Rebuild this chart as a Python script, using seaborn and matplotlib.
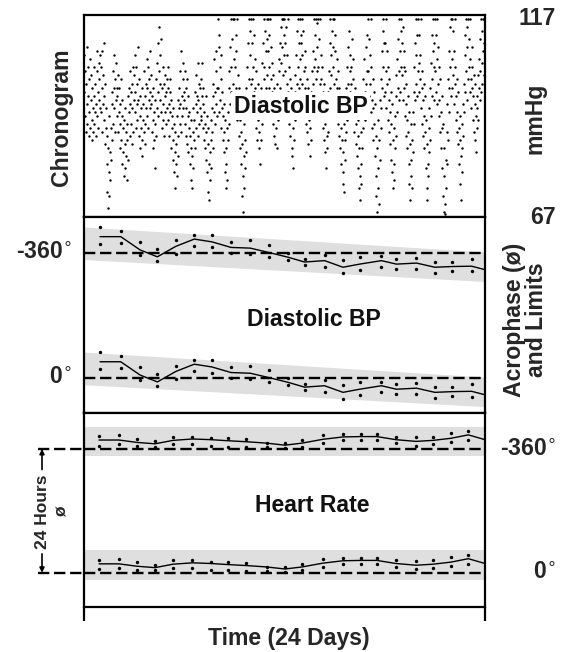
import matplotlib
matplotlib.use("Agg")
import matplotlib.pyplot as plt
import numpy as np
import pandas as pd
import seaborn as sns

# ---------------- data ----------------
N_DAYS = 24
CHRONO_TOP, CHRONO_BOTTOM = 117, 67

# Chronogram of diastolic BP (mmHg), readings of each day in time order
dbp_day00 = [98,107,92,103,88,100,95,109,90,104,97,87,101,93,106,89,96,102,91,86,99,94,88,97,104,90,93,100,87,95,108,92,103,98,89,105,96,101,94,107]
dbp_day01 = [104,93,108,99,88,102,95,110,91,97,85,100,89,94,80,87,73,84,69,78,92,72,83,76,89,81,95,86,98,90,103,94,107,99,88,101,96,105,92,99]
dbp_day02 = [97,88,102,93,99,84,95,90,101,86,92,80,96,83,89,77,91,85,79,94,82,88,76,90,86,97,81,93,99,87,95,103,90,98,85,100,94,88,104,96]
dbp_day03 = [102,93,107,98,89,104,95,100,91,109,96,87,101,92,84,97,89,94,82,99,86,91,95,88,103,90,97,85,100,94,106,92,99,104,89,96,101,108,94,98]
dbp_day04 = [95,102,88,97,91,84,99,86,93,79,90,96,87,101,94,105,92,110,98,103,114,96,107,100,93,111,99,89,104,95,91,100,87,97,102,93,98,90,101,94]
dbp_day05 = [99,91,104,95,87,101,93,98,84,96,89,92,81,94,86,78,90,83,74,88,80,85,77,92,87,96,82,94,99,90,103,95,88,108,97,92,101,94,105,98]
dbp_day06 = [96,103,90,99,87,94,101,85,92,97,83,89,93,80,87,76,84,91,74,82,88,79,94,86,91,98,84,95,89,102,93,97,87,105,96,90,100,94,99,91]
dbp_day07 = [101,92,97,105,89,95,99,86,93,90,84,97,81,88,92,78,85,73,89,80,71,83,76,91,86,79,94,88,97,84,100,93,106,90,98,103,95,108,92,99]
dbp_day08 = [116,99,109,93,112,104,96,107,89,101,94,98,86,92,83,95,88,78,91,74,84,80,89,76,93,86,99,90,103,95,109,98,116,104,92,111,100,116,106,96]
dbp_day09 = [116,104,95,112,99,108,91,116,97,102,87,94,99,84,91,96,80,88,72,85,77,68,82,74,90,79,86,95,83,99,92,104,97,110,101,116,94,107,113,100]
dbp_day10 = [116,101,110,95,116,104,98,112,92,106,99,89,103,94,97,86,100,91,84,96,88,80,93,86,99,90,105,97,110,93,101,116,104,96,113,108,99,116,102,111]
dbp_day11 = [108,116,99,112,104,95,116,101,109,93,105,98,90,102,95,87,99,92,85,97,89,94,84,100,91,97,106,95,103,110,99,114,105,116,97,109,102,116,107,112]
dbp_day12 = [116,103,110,96,114,100,107,93,116,98,104,90,101,95,87,99,92,84,96,82,89,79,93,86,98,91,102,95,107,100,113,96,116,104,110,99,116,106,101,112]
dbp_day13 = [110,116,100,107,96,113,103,92,108,99,104,90,97,101,88,94,99,85,91,96,82,89,93,86,98,92,103,96,108,100,116,104,97,112,106,116,101,109,115,103]
dbp_day14 = [116,104,97,111,100,116,93,107,101,96,104,89,98,92,86,100,94,83,90,79,95,87,84,92,98,88,103,95,110,99,116,102,107,97,113,116,104,109,100,116]
dbp_day15 = [108,97,112,101,94,106,99,90,103,95,87,99,92,84,96,89,80,93,86,75,83,78,90,73,86,81,94,88,99,91,104,96,109,100,94,113,103,98,107,100]
dbp_day16 = [104,111,97,106,92,101,95,88,99,93,85,96,90,82,94,87,79,91,74,84,77,71,88,80,75,92,84,97,89,101,94,106,98,91,109,100,95,112,103,97]
dbp_day17 = [116,103,111,97,107,100,116,93,104,96,89,101,94,86,98,90,82,95,77,87,72,84,68,79,74,91,70,86,81,96,89,101,94,108,99,113,104,116,97,110]
dbp_day18 = [110,98,116,103,94,108,100,91,104,96,88,101,93,85,98,90,81,95,78,86,74,89,80,76,92,84,97,87,102,93,106,99,111,96,116,103,108,98,113,104]
dbp_day19 = [116,102,110,96,114,104,99,108,92,103,95,87,100,91,84,97,88,80,93,75,85,71,81,77,90,74,86,93,83,98,90,104,96,110,100,116,107,97,112,103]
dbp_day20 = [116,105,98,112,101,107,94,116,99,103,90,96,87,100,92,84,97,88,79,91,74,85,71,80,77,89,83,94,86,99,92,105,97,112,101,108,116,96,110,104]
dbp_day21 = [116,103,112,98,116,106,95,109,100,92,104,96,88,101,93,84,97,89,79,90,72,84,68,77,70,67.5,81,74,88,80,95,86,101,93,108,99,114,104,116,97]
dbp_day22 = [116,106,99,113,102,108,95,116,100,104,91,97,88,101,93,85,98,89,80,92,75,86,71,82,78,90,84,95,87,100,93,107,98,112,103,116,96,109,114,101]
dbp_day23 = [116,104,111,98,116,106,101,94,109,99,104,91,97,102,88,95,100,86,92,83,97,89,94,102,91,99,106,96,103,111,98,116,105,100,113,108,116,102,110,116]

# Diastolic BP acrophase (degrees) and its limits, one estimate per span
bp_day        = [0.96, 2.2, 3.35, 4.39, 5.49, 6.6, 7.66, 8.8, 9.95, 11.1, 12.2,
                 13.2, 14.4, 15.5, 16.5, 17.8, 18.7, 19.9, 21.0, 22.0, 23.2]
bp_acrophase  = [-46, -46, -8, 12, -18, -39, -31, -15, -13, 0, 13,
                 27, 23, 42, 33, 23, 33, 30, 42, 40, 39]
bp_limit_lo   = [-73, -63, -31, -10, -35, -52, -52, -31, -35, -23, 0,
                 19, 6, 22, 13, 11, 19, 14, 26, 26, 19]
bp_limit_hi   = [-24, -29, 6, 25, 4, -18, -15, 1, 4, 13, 22,
                 36, 40, 60, 50, 40, 46, 46, 59, 53, 54]
bp_acrophase_end = 49
bp_band_day   = [0, 24]
bp_band_lo    = [-74, -2]
bp_band_hi    = [20, 83]

# Heart rate acrophase (degrees) and its limits
hr_day        = [0.90, 2.09, 3.18, 4.25, 5.33, 6.49, 7.60, 8.59, 9.72, 10.93, 12.03,
                 13.05, 14.29, 15.50, 16.58, 17.52, 18.67, 19.87, 20.89, 21.96, 23.0]
hr_acrophase  = [-26, -26, -19, -15, -25, -29, -27, -24, -21, -17, -11,
                 -17, -28, -35, -36, -36, -27, -22, -25, -31, -41]
hr_limit_lo   = [-38, -40, -30, -23, -36, -36, -32, -32, -29, -18, -18,
                 -25, -41, -43, -43, -43, -36, -34, -36, -45, -53]
hr_limit_hi   = [-10, -14, -9, -7, -13, -14, -9, -7, -6, -5, -3,
                 -7, -18, -25, -25, -25, -17, -10, -14, -20, -26]
hr_acrophase_end = -27
hr_band_day   = [0, 24]
hr_band_lo    = [-65, -65]
hr_band_hi    = [20, 20]

PERIOD_OFFSETS = [0, -360]

dbp_days = [dbp_day00, dbp_day01, dbp_day02, dbp_day03, dbp_day04, dbp_day05,
            dbp_day06, dbp_day07, dbp_day08, dbp_day09, dbp_day10, dbp_day11,
            dbp_day12, dbp_day13, dbp_day14, dbp_day15, dbp_day16, dbp_day17,
            dbp_day18, dbp_day19, dbp_day20, dbp_day21, dbp_day22, dbp_day23]

# ---------------- tables ----------------
rows = []
for d, vals in enumerate(dbp_days):
    n = len(vals)
    for k, v in enumerate(vals):
        rows.append((d + k / n, v))
chrono = pd.DataFrame(rows, columns=["day", "mmHg"])


def acro_tables(day, acro, lo, hi, end):
    pts, lines = [], []
    for off in PERIOD_OFFSETS:
        for x, a, b in zip(day, lo, hi):
            pts.append((x, a + off, off))
            pts.append((x, b + off, off))
        xs = list(day) + [N_DAYS]
        ys = list(acro) + [end]
        for x, y in zip(xs, ys):
            lines.append((x, y + off, off))
    return (pd.DataFrame(pts, columns=["day", "phi", "copy"]),
            pd.DataFrame(lines, columns=["day", "phi", "copy"]))


bp_pts, bp_line = acro_tables(bp_day, bp_acrophase, bp_limit_lo, bp_limit_hi, bp_acrophase_end)
hr_pts, hr_line = acro_tables(hr_day, hr_acrophase, hr_limit_lo, hr_limit_hi, hr_acrophase_end)

# ---------------- figure ----------------
sns.set_theme(style="white")
plt.rcParams['font.family'] = ['Liberation Sans', 'DejaVu Sans']
plt.rcParams['mathtext.fontset'] = 'dejavusans'

W_PX, H_PX = 562, 652
fig = plt.figure(figsize=(W_PX / 100, H_PX / 100), dpi=100)
L = 84 / W_PX
AW = 401 / W_PX


def add_ax(top_px, bot_px):
    return fig.add_axes([L, 1 - bot_px / H_PX, AW, (bot_px - top_px) / H_PX])


ax_top = add_ax(15, 216.5)
ax_mid = add_ax(216.5, 412.5)
ax_bot = add_ax(412.5, 606.5)

FS = 16.6
GRAY = "#dfdfdf"
DASH = (0, (4.8, 2.0))

for ax in (ax_top, ax_mid, ax_bot):
    ax.set_xlim(0, N_DAYS)
    ax.set_xticks([])
    ax.set_yticks([])
    for sp in ax.spines.values():
        sp.set_color("black")
        sp.set_linewidth(1.6)
        sp.set_visible(True)

# ---- chronogram ----
sns.scatterplot(data=chrono, x="day", y="mmHg", ax=ax_top, color="black",
                s=3, linewidth=0, marker="o", legend=False)
ax_top.set_ylim(CHRONO_BOTTOM, CHRONO_TOP)
ax_top.set_xlim(0, N_DAYS)
ax_top.set_xticks([])
ax_top.set_yticks([])
ax_top.set_xlabel("")
ax_top.set_ylabel("")
ax_top.text(0.54, 0.548, "Diastolic BP", transform=ax_top.transAxes, ha="center",
            va="center", fontsize=FS, fontweight="bold", color="#111111",
            bbox=dict(boxstyle="square,pad=0.12", fc="white", ec="none"), zorder=5)
ax_top.text(-0.055, 0.494, "Chronogram", transform=ax_top.transAxes, rotation=90,
            ha="center", va="center", fontsize=FS, fontweight="bold")
ax_top.text(1.177, 0.985, str(CHRONO_TOP), transform=ax_top.transAxes, ha="right",
            va="center", fontsize=FS, fontweight="bold")
ax_top.text(1.177, -0.005, str(CHRONO_BOTTOM), transform=ax_top.transAxes, ha="right",
            va="center", fontsize=FS, fontweight="bold")
ax_top.text(1.125, 0.489, "mmHg", transform=ax_top.transAxes, rotation=90,
            ha="center", va="center", fontsize=FS, fontweight="bold")


def acro_panel(ax, pts, line, band_day, band_lo, band_hi, ylim):
    for off in PERIOD_OFFSETS:
        ax.fill_between(band_day, [v + off for v in band_lo], [v + off for v in band_hi],
                        color=GRAY, linewidth=0, zorder=0)
        ax.axhline(off, color="black", lw=1.7, ls=DASH, zorder=2)
    sns.lineplot(data=line, x="day", y="phi", units="copy", estimator=None, ax=ax,
                 color="black", lw=1.0, sort=False, legend=False, zorder=3)
    sns.scatterplot(data=pts, x="day", y="phi", ax=ax, color="black", s=6,
                    linewidth=0, legend=False, zorder=4)
    ax.set_ylim(*ylim)
    ax.set_xlim(0, N_DAYS)
    ax.set_xlabel("")
    ax.set_ylabel("")
    ax.set_xticks([])
    ax.set_yticks([])


acro_panel(ax_mid, bp_pts, bp_line, bp_band_day, bp_band_lo, bp_band_hi, (100, -464))
acro_panel(ax_bot, hr_pts, hr_line, hr_band_day, hr_band_lo, hr_band_hi, (98, -466))

# middle panel labels
ax_mid.text(0.574, 0.472, "Diastolic BP", transform=ax_mid.transAxes, ha="center",
            va="center", fontsize=FS, fontweight="bold", color="#111111")
ytr_mid = ax_mid.get_yaxis_transform()
ax_mid.text(-0.03, -360, "-360$^{\\circ}$", transform=ytr_mid, ha="right", va="center",
            fontsize=FS, fontweight="bold")
ax_mid.text(-0.03, 0, "0$^{\\circ}$", transform=ytr_mid, ha="right", va="center",
            fontsize=FS, fontweight="bold")
ax_mid.text(1.102, 0.472, "Acrophase (ø)\nand Limits", transform=ax_mid.transAxes,
            rotation=90, ha="center", va="center", fontsize=FS, fontweight="bold",
            linespacing=0.95, multialignment="center")

# bottom panel labels
ax_bot.text(0.568, 0.523, "Heart Rate", transform=ax_bot.transAxes, ha="center",
            va="center", fontsize=FS, fontweight="bold", color="#111111")
ytr_bot = ax_bot.get_yaxis_transform()
ax_bot.text(1.177, -360, "-360$^{\\circ}$", transform=ytr_bot, ha="right", va="center",
            fontsize=FS, fontweight="bold")
ax_bot.text(1.177, 0, "0$^{\\circ}$", transform=ytr_bot, ha="right", va="center",
            fontsize=FS, fontweight="bold")

# outside dashed extensions and 24-hour scale
x_ext = (38 - 84) / 401
for off in PERIOD_OFFSETS:
    ax_bot.plot([x_ext, 0], [off, off], transform=ytr_bot, color="black", lw=1.7,
                ls=DASH, clip_on=False)
x_arrow = (42 - 84) / 401
ax_bot.annotate("", xy=(x_arrow, -360), xytext=(x_arrow, -300), xycoords=ytr_bot,
                textcoords=ytr_bot,
                arrowprops=dict(arrowstyle="-|>", color="black", lw=1.2,
                                mutation_scale=7, shrinkA=0, shrinkB=0))
ax_bot.annotate("", xy=(x_arrow, 0), xytext=(x_arrow, -55), xycoords=ytr_bot,
                textcoords=ytr_bot,
                arrowprops=dict(arrowstyle="-|>", color="black", lw=1.2,
                                mutation_scale=7, shrinkA=0, shrinkB=0))
ax_bot.text(x_arrow, -178, "24 Hours", transform=ytr_bot, rotation=90, ha="center",
            va="center", fontsize=12.5, fontweight="bold")
ax_bot.text((62 - 84) / 401, -178, "ø", transform=ytr_bot, rotation=90, ha="center",
            va="center", fontsize=12.5, fontweight="bold")

# frame legs below the bottom panel
for xa in (0, 1):
    ax_bot.plot([xa, xa], [0, -14 / 194], transform=ax_bot.transAxes, color="black",
                lw=1.6, clip_on=False, solid_capstyle="butt")

fig.text(289 / W_PX, 1 - 638 / H_PX, "Time (24 Days)", ha="center", va="center",
         fontsize=FS, fontweight="bold")

fig.savefig("out.png", dpi=100)
